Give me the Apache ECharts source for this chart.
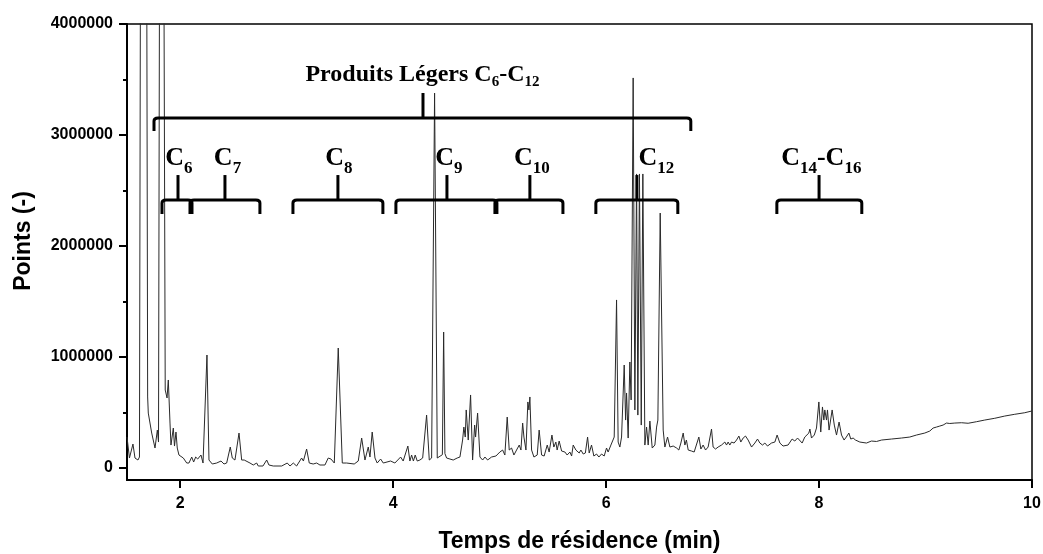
<!DOCTYPE html>
<html>
<head>
<meta charset="utf-8">
<script src="https://cdn.jsdelivr.net/npm/echarts@6/dist/echarts.min.js"></script>
<style>
  html, body { margin: 0; padding: 0; background: #fff; }
  #chart { width: 1043px; height: 554px; }
</style>
</head>
<body>
<div id="chart"></div>
<script>
// ---- Data ----
const retentionTime = [
  1.500,1.523,1.538,1.556,1.575,1.603,1.617,1.655,1.694,1.700,1.732,1.763,1.772,1.785,1.796,1.822,1.859,1.876,1.888,1.904,
  1.913,1.935,1.946,1.960,1.972,1.988,2.029,2.061,2.082,2.108,2.126,2.145,2.164,2.195,2.214,2.232,2.251,2.270,2.301,2.342,
  2.383,2.411,2.436,2.470,2.489,2.514,2.552,2.577,2.601,2.655,2.686,2.718,2.733,2.777,2.812,2.833,2.874,2.953,3.005,3.031,
  3.062,3.093,3.140,3.157,3.187,3.212,3.249,3.281,3.312,3.359,3.390,3.416,3.447,3.484,3.522,3.563,3.634,3.672,3.704,3.735,
  3.766,3.782,3.803,3.829,3.850,3.882,3.907,3.976,4.016,4.070,4.094,4.138,4.157,4.173,4.190,4.207,4.226,4.251,4.277,4.314,
  4.339,4.361,4.389,4.414,4.432,4.462,4.474,4.486,4.502,4.533,4.564,4.601,4.627,4.652,4.664,4.677,4.686,4.705,4.727,4.746,4.765,4.774,
  4.793,4.815,4.840,4.862,4.887,4.924,4.965,5.002,5.028,5.049,5.071,5.090,5.112,5.134,5.159,5.184,5.200,5.216,5.228,5.247,
  5.265,5.275,5.284,5.300,5.322,5.353,5.371,5.394,5.418,5.447,5.465,5.491,5.509,5.528,5.540,5.559,5.582,5.613,5.634,5.660,
  5.676,5.691,5.716,5.747,5.763,5.785,5.805,5.826,5.841,5.863,5.885,5.910,5.932,5.957,5.982,6.004,6.019,6.045,6.061,6.076,
  6.098,6.113,6.129,6.145,6.170,6.183,6.192,6.207,6.223,6.235,6.254,6.270,6.286,6.298,6.313,6.330,6.345,6.364,6.380,6.395,
  6.411,6.433,6.458,6.474,6.486,6.508,6.536,6.552,6.577,6.599,6.630,6.662,6.683,6.702,6.724,6.740,6.754,6.771,6.802,6.827,
  6.871,6.890,6.911,6.934,6.958,6.990,7.005,7.028,7.052,7.084,7.115,7.131,7.146,7.162,7.178,7.202,7.225,7.247,7.265,7.287,
  7.309,7.334,7.366,7.397,7.422,7.444,7.469,7.491,7.516,7.553,7.585,7.606,7.632,7.662,7.709,7.747,7.772,7.798,7.841,7.866,
  7.904,7.914,7.929,7.955,7.976,7.998,8.016,8.032,8.045,8.054,8.070,8.079,8.094,8.123,8.143,8.164,8.188,8.211,8.235,8.256,
  8.280,8.298,8.320,8.342,8.383,8.445,8.492,8.540,8.587,8.680,8.774,8.852,8.915,8.993,9.040,9.071,9.087,9.103,9.134,9.165,
  9.197,9.228,9.275,9.338,9.400,9.478,9.556,9.650,9.744,9.838,9.932,10.000
];
const signal = [
  279000,90000,99000,216000,90000,72000,99000,18000000,640000,495000,315000,180000,162000,342000,234000,12000000,703000,631000,793000,405000,
  207000,360000,198000,324000,180000,117000,90000,45000,45000,99000,54000,99000,81000,117000,45000,54000,1018000,72000,36000,45000,
  63000,36000,45000,189000,90000,72000,315000,72000,72000,45000,27000,45000,18000,18000,72000,27000,18000,18000,45000,18000,
  45000,18000,90000,63000,171000,45000,36000,45000,27000,27000,90000,81000,45000,1081000,45000,45000,36000,63000,270000,72000,
  189000,99000,324000,90000,45000,81000,45000,63000,45000,99000,63000,198000,63000,117000,63000,117000,63000,72000,90000,477000,
  72000,90000,3378000,90000,81000,120000,1225000,130000,90000,81000,72000,90000,99000,252000,369000,279000,523000,252000,658000,72000,387000,279000,
  495000,99000,72000,99000,72000,99000,108000,144000,162000,117000,459000,162000,180000,117000,162000,207000,162000,405000,279000,162000,
  595000,523000,640000,162000,99000,117000,342000,117000,108000,207000,144000,297000,189000,234000,162000,243000,153000,144000,117000,144000,
  108000,207000,162000,135000,162000,126000,135000,279000,135000,207000,108000,126000,99000,126000,108000,180000,144000,207000,189000,279000,
  1514000,234000,189000,279000,928000,432000,676000,270000,955000,613000,3514000,523000,2649000,477000,2649000,387000,2649000,207000,369000,207000,
  423000,180000,207000,369000,432000,2297000,342000,189000,279000,189000,198000,180000,162000,225000,315000,207000,252000,162000,153000,144000,
  279000,171000,207000,162000,189000,351000,189000,171000,189000,207000,234000,207000,234000,207000,234000,225000,252000,288000,234000,270000,
  288000,252000,189000,225000,261000,225000,207000,225000,198000,225000,234000,297000,225000,198000,207000,261000,243000,270000,225000,279000,
  315000,351000,270000,297000,360000,595000,324000,550000,432000,523000,432000,523000,342000,523000,387000,297000,414000,297000,252000,279000,
  315000,261000,270000,252000,234000,225000,243000,239000,252000,261000,270000,279000,297000,315000,333000,360000,342000,369000,378000,387000,
  405000,401000,405000,408000,403000,417000,432000,448000,468000,484000,498000,514000
];

// Axis tick values
const xTickValues = [2, 4, 6, 8, 10];
const yTickValues = [0, 1000000, 2000000, 3000000, 4000000];
const yMinorTickValues = [500000, 1500000, 2500000, 3500000];

// Annotation groups (carbon-number ranges, in minutes)
const groupLabel   = ['C_{6}', 'C_{7}', 'C_{8}', 'C_{9}', 'C_{10}', 'C_{12}', 'C_{14}-C_{16}', 'Produits Légers C_{6}-C_{12}'];
const groupStart   = [1.838, 2.101, 3.068, 4.035, 4.965, 5.913, 7.613, 1.763];
const groupEnd     = [2.101, 2.739, 3.894, 4.965, 5.585, 6.664, 8.392, 6.786];
const groupTick    = [1.979, 2.420, 3.481, 4.505, 5.284, 6.289, 8.000, 4.280];
const groupLabelAt = [1.988, 2.444, 3.491, 4.524, 5.303, 6.472, 8.021, 4.275];
const groupTier    = [1, 1, 1, 1, 1, 1, 1, 0];

// ---- Chart ----
const chart = echarts.init(document.getElementById('chart'), null, { renderer: 'canvas' });

const SANS = "'Liberation Sans', Arial, sans-serif";
const SERIF = "'Liberation Serif', 'Times New Roman', serif";

const LEVEL = { 0: 3153000, 1: 2414000 };
const LABEL_LEVEL = { 0: 3530000, 1: 2770000 };

function toRich(label) {
  return label.replace(/_\{([^}]*)\}/g, '\u0000$1\u0000').split('\u0000')
    .map((part, k) => part === '' ? '' : (k % 2 === 0 ? '{m|' + part + '}' : '{s|' + part + '}'))
    .join('');
}

function richStyles(tier) {
  if (tier === 0) {
    return {
      m: { fontFamily: SERIF, fontWeight: 'bold', fontSize: 24, lineHeight: 27, verticalAlign: 'top', fill: '#000' },
      s: { fontFamily: SERIF, fontWeight: 'bold', fontSize: 15, lineHeight: 15, verticalAlign: 'top', padding: [12, 0, 0, 0], fill: '#000' }
    };
  }
  return {
    m: { fontFamily: SERIF, fontWeight: 'bold', fontSize: 26, lineHeight: 30, verticalAlign: 'top', fill: '#000' },
    s: { fontFamily: SERIF, fontWeight: 'bold', fontSize: 17, lineHeight: 17, verticalAlign: 'top', padding: [15, 0, 0, 0], fill: '#000' }
  };
}

function renderBracket(params, api) {
  const i = params.dataIndex;
  const tier = api.value(4);
  const lvl = LEVEL[tier];
  const p0 = api.coord([api.value(0), lvl]);
  const p1 = api.coord([api.value(1), lvl]);
  const pt = api.coord([api.value(2), lvl]);
  const pl = api.coord([api.value(3), LABEL_LEVEL[tier]]);
  const drop = tier === 0 ? 13 : 14;
  const rise = 25;
  const r = 3;
  const y = p0[1];
  const d = 'M' + (p0[0] - 1) + ' ' + (y + drop) +
            ' L' + (p0[0] - 1) + ' ' + (y + r) +
            ' Q' + (p0[0] - 1) + ' ' + y + ' ' + (p0[0] + r) + ' ' + y +
            ' L' + (p1[0] - r) + ' ' + y +
            ' Q' + (p1[0] + 1) + ' ' + y + ' ' + (p1[0] + 1) + ' ' + (y + r) +
            ' L' + (p1[0] + 1) + ' ' + (y + drop);
  return {
    type: 'group',
    children: [
      { type: 'path', shape: { pathData: d }, style: { stroke: '#000', lineWidth: 3, fill: null, lineJoin: 'round' } },
      { type: 'line', shape: { x1: pt[0], y1: y, x2: pt[0], y2: y - rise }, style: { stroke: '#000', lineWidth: 3 } },
      { type: 'text', x: pl[0], y: pl[1],
        style: { text: toRich(groupLabel[i]), rich: richStyles(tier), align: 'center', verticalAlign: 'middle', fill: '#000' } }
    ]
  };
}

const option = {
  animation: false,
  backgroundColor: '#fff',
  grid: { left: 127, right: 11, top: 24, bottom: 74, outerBoundsMode: 'none', containLabel: false,
          show: true, borderColor: '#000', borderWidth: 1.5, backgroundColor: 'transparent' },
  xAxis: [{
    type: 'value', min: 1.5, max: 10,
    name: 'Temps de résidence (min)', nameLocation: 'middle', nameGap: 50,
    nameTextStyle: { fontFamily: SANS, fontWeight: 'bold', fontSize: 23, color: '#000' },
    axisLine: { show: true, onZero: false, lineStyle: { color: '#000', width: 2 } },
    axisTick: { show: true, customValues: xTickValues, length: 8, inside: false, lineStyle: { color: '#000', width: 2 } },
    axisLabel: { customValues: xTickValues, margin: 16, fontFamily: SANS, fontWeight: 'bold', fontSize: 16, color: '#000' },
    splitLine: { show: false }
  }],
  yAxis: [{
    type: 'value', min: -108000, max: 4000000, position: 'left',
    name: 'Points (-)', nameLocation: 'middle', nameGap: 92, nameRotate: 90,
    nameTextStyle: { fontFamily: SANS, fontWeight: 'bold', fontSize: 23, color: '#000', padding: [0, 0, 0, 22] },
    axisLine: { show: true, onZero: false, lineStyle: { color: '#000', width: 2 } },
    axisTick: { show: true, customValues: yTickValues, length: 8, lineStyle: { color: '#000', width: 2 } },
    axisLabel: { customValues: yTickValues, margin: 14, formatter: v => String(v),
      fontFamily: SANS, fontWeight: 'bold', fontSize: 16, color: '#000' },
    splitLine: { show: false }
  }, {
    type: 'value', min: -108000, max: 4000000, position: 'left', offset: 0,
    axisLine: { show: false },
    axisTick: { show: true, customValues: yMinorTickValues, length: 4, lineStyle: { color: '#000', width: 2 } },
    axisLabel: { show: false },
    splitLine: { show: false }
  }],
  series: [{
    type: 'line',
    data: retentionTime.map((t, i) => [t, signal[i]]),
    showSymbol: false, symbol: 'none', clip: true,
    lineStyle: { color: '#2a2a2a', width: 1 },
    z: 3
  }, {
    type: 'custom',
    renderItem: renderBracket,
    data: groupStart.map((s, i) => [s, groupEnd[i], groupTick[i], groupLabelAt[i], groupTier[i]]),
    encode: { x: [0, 1, 2, 3], y: 4 },
    clip: false,
    z: 4
  }]
};

chart.setOption(option);
</script>
</body>
</html>
